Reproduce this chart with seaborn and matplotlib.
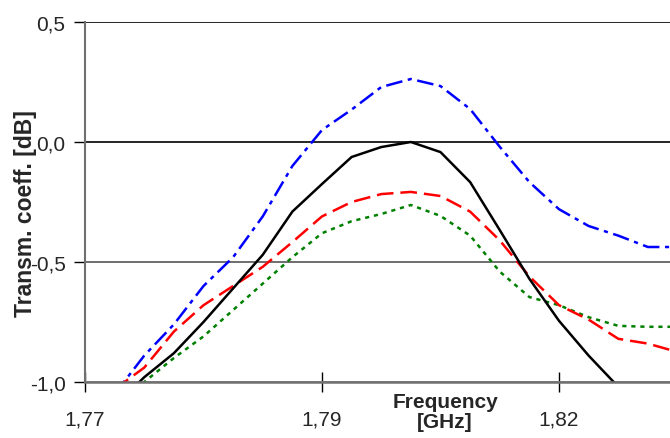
import matplotlib
matplotlib.use("Agg")
import matplotlib.pyplot as plt
import seaborn as sns
import pandas as pd

# ---- data ----
freq = [1.773125, 1.77625, 1.779375, 1.7825, 1.785625, 1.78875, 1.791875,
        1.795, 1.798125, 1.80125, 1.804375, 1.8075, 1.810625, 1.81375,
        1.816875, 1.82, 1.823125, 1.82625, 1.829375, 1.8325]
black_vals = [-1.10, -0.98, -0.88, -0.75, -0.61, -0.47, -0.29, -0.175, -0.0625,
              -0.021, 0.0, -0.042, -0.167, -0.367, -0.57, -0.745, -0.89, -1.02,
              -1.15, -1.28]
red_vals = [-1.03, -0.94, -0.79, -0.68, -0.60, -0.52, -0.417, -0.31, -0.25,
            -0.217, -0.208, -0.225, -0.29, -0.41, -0.56, -0.68, -0.74, -0.82,
            -0.84, -0.875]
green_vals = [-1.10, -1.0, -0.90, -0.81, -0.70, -0.59, -0.48, -0.38, -0.33,
              -0.30, -0.2625, -0.308, -0.39, -0.54, -0.646, -0.68, -0.73,
              -0.766, -0.77, -0.77]
blue_vals = [-1.05, -0.89, -0.76, -0.60, -0.48, -0.31, -0.10, 0.05, 0.135,
             0.229, 0.2625, 0.233, 0.1375, -0.02, -0.167, -0.28, -0.35, -0.39,
             -0.4375, -0.4375]
ytick_vals = [0.5, 0.0, -0.5, -1.0]
ytick_labels = ["0,5", "0,0", "-0,5", "-1,0"]
xtick_vals = [1.77, 1.795, 1.82]
xtick_labels = ["1,77", "1,79", "1,82"]

sns.set_style("white")
plt.rcParams['font.family'] = ['Liberation Sans', 'DejaVu Sans']
plt.rcParams['lines.scale_dashes'] = False

W, H = 670, 439
fig = plt.figure(figsize=(W / 100, H / 100), dpi=100)
left_px, right_px, top_px, bot_px = 85, 670, 23, 383
ax = fig.add_axes([left_px / W, 1 - bot_px / H, (right_px - left_px) / W,
                   (bot_px - top_px) / H])

x0 = 1.77
px_per = 237 / 0.025
ax.set_xlim(x0, x0 + (right_px - left_px) / px_per)
ax.set_ylim(-1.0, 0.5)

df = pd.DataFrame({"f": freq, "black": black_vals, "red": red_vals,
                   "green": green_vals, "blue": blue_vals})

lw = 1.8
sns.lineplot(data=df, x="f", y="blue", ax=ax, color="#0000ff", lw=lw,
             linestyle=(0, (12, 4, 3, 4)))
sns.lineplot(data=df, x="f", y="green", ax=ax, color="#008000", lw=lw,
             linestyle=(0, (3, 3.5)))
sns.lineplot(data=df, x="f", y="red", ax=ax, color="#ff0000", lw=lw,
             linestyle=(0, (12, 5)))
sns.lineplot(data=df, x="f", y="black", ax=ax, color="black", lw=lw,
             linestyle="-")

ax.set_yticks(ytick_vals)
ax.set_yticklabels(ytick_labels, fontsize=15)
ax.set_xticks(xtick_vals)
ax.set_xticklabels(xtick_labels, fontsize=15)
ax.tick_params(axis="y", direction="out", length=8, width=1, color="black",
               pad=6, left=True)
ax.tick_params(axis="x", direction="inout", length=15, width=1, color="black",
               pad=12, bottom=True)

ax.yaxis.grid(True)
for gl, c in zip(ax.get_ygridlines(), ["black", "black", "#555555", "#808080"]):
    gl.set_color(c)
    gl.set_linewidth(1.2)
ax.set_axisbelow(True)

for s in ["top", "right"]:
    ax.spines[s].set_visible(False)
ax.spines["left"].set_color("#707070")
ax.spines["left"].set_linewidth(1.5)
ax.spines["bottom"].set_color("#707070")
ax.spines["bottom"].set_linewidth(1.8)

ax.set_xlabel("")
ax.set_ylabel("")
fig.text(445 / W, 1 - 393 / H, "Frequency\n[GHz]", ha="center", va="top",
         fontsize=15, fontweight="bold", linespacing=1.05)
fig.text(26 / W, 1 - 214 / H, "Transm. coeff. [dB]", ha="center", va="center",
         rotation=90, fontsize=16.5, fontweight="bold")

fig.savefig("out.png", dpi=100)
